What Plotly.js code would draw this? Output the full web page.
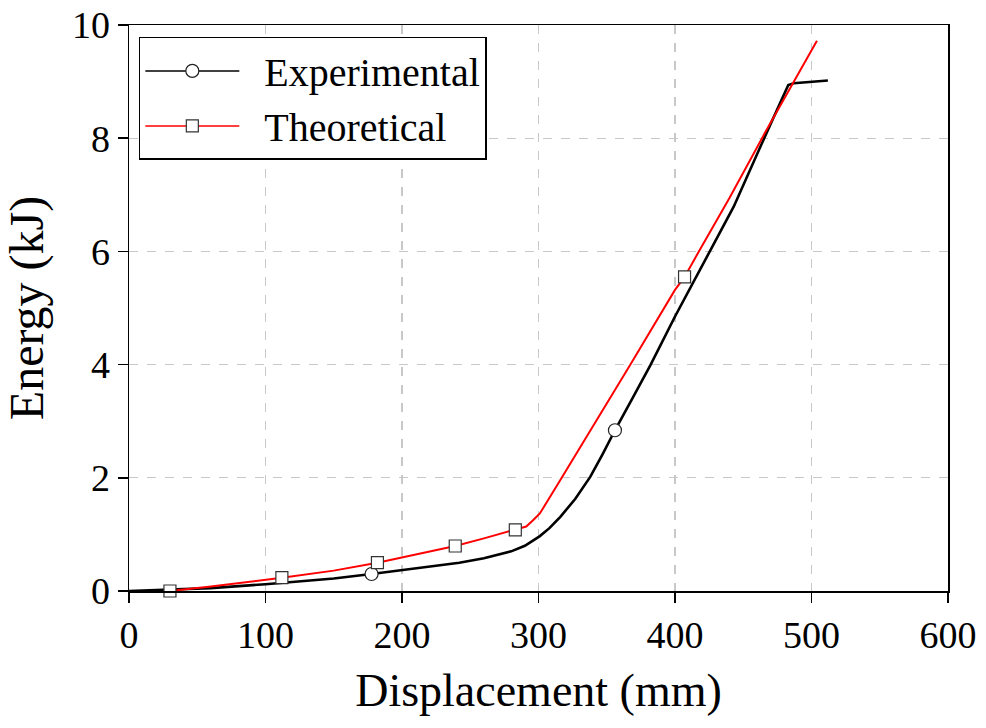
<!DOCTYPE html>
<html>
<head>
<meta charset="utf-8">
<script src="https://cdn.plot.ly/plotly-3.0.1.min.js"></script>
<style>html,body{margin:0;padding:0;background:#fff;}#chart{width:986px;height:728px;}</style>
</head>
<body>
<div id="chart"></div>
<script>
// Experimental curve (Displacement mm, Energy kJ)
var expX = [0, 30, 60, 100, 150, 177.7, 200, 242, 260, 280, 290, 301, 308, 316, 327, 338, 347, 356, 369, 382, 400, 426, 443, 467, 483, 487, 500, 512];
var expY = [0, 0.02, 0.05, 0.12, 0.22, 0.30, 0.37, 0.50, 0.58, 0.70, 0.80, 0.97, 1.11, 1.31, 1.63, 2.02, 2.42, 2.84, 3.41, 3.99, 4.85, 6.02, 6.79, 8.09, 8.94, 8.97, 9.00, 9.02];
// Theoretical curve
var thX = [30, 60, 112, 150, 182, 210, 239, 260, 283, 291, 296, 301, 316, 352, 367, 400, 407, 418, 440, 466, 504];
var thY = [0, 0.08, 0.235, 0.36, 0.50, 0.64, 0.795, 0.93, 1.08, 1.14, 1.25, 1.37, 1.96, 3.38, 3.99, 5.32, 5.55, 6.02, 6.95, 8.10, 9.72];
// Marker points
var expMarkX = [177.7, 356];
var expMarkY = [0.30, 2.84];
var thMarkX = [30, 112, 182, 239, 283, 407];
var thMarkY = [0, 0.235, 0.50, 0.795, 1.08, 5.55];
var seriesNames = ['Experimental', 'Theoretical'];
var xTicks = [0, 100, 200, 300, 400, 500, 600];
var yTicks = [0, 2, 4, 6, 8, 10];

var font = 'Liberation Serif';
var pad = '\u00a0\u00a0';
var circleMarker = {symbol: 'circle', size: 13, color: '#ffffff', line: {color: '#222', width: 1.2}};
var squareMarker = {symbol: 'square', size: 12, color: '#ffffff', line: {color: '#333', width: 1.2}};

var traces = [
  {x: expX, y: expY, mode: 'lines', line: {color: '#000', width: 2.6}, showlegend: false, hoverinfo: 'skip'},
  {x: thX, y: thY, mode: 'lines', line: {color: '#ff0000', width: 2}, showlegend: false, hoverinfo: 'skip'},
  {x: expMarkX, y: expMarkY, mode: 'markers', marker: circleMarker, showlegend: false, cliponaxis: false},
  {x: thMarkX, y: thMarkY, mode: 'markers', marker: squareMarker, showlegend: false, cliponaxis: false},
  {x: [null], y: [null], mode: 'lines+markers', name: pad + seriesNames[0], line: {color: '#000', width: 1.5}, marker: circleMarker},
  {x: [null], y: [null], mode: 'lines+markers', name: pad + seriesNames[1], line: {color: '#ff0000', width: 1.5}, marker: squareMarker}
];

var layout = {
  width: 986, height: 728,
  margin: {l: 129, r: 38, t: 25, b: 137},
  paper_bgcolor: '#fff', plot_bgcolor: '#fff',
  font: {family: font, color: '#000', size: 37},
  showlegend: true,
  legend: {
    x: 0.012, y: 0.979, xanchor: 'left', yanchor: 'top',
    bgcolor: '#fff', bordercolor: '#000', borderwidth: 1.5,
    font: {family: font, size: 40, color: '#000'},
    itemwidth: 94, tracegroupgap: 0, traceorder: 'normal'
  },
  xaxis: {
    range: [0, 600], tickvals: xTicks, ticktext: xTicks.map(String),
    showline: true, linecolor: '#000', linewidth: 1.5, mirror: true,
    ticks: 'outside', ticklen: 10, tickwidth: 1.5, tickcolor: '#000',
    showgrid: true, gridcolor: '#c8c8c8', gridwidth: 1.3, griddash: 'dash',
    zeroline: false,
    tickfont: {family: font, size: 38, color: '#000'},
    title: {text: 'Displacement (mm)', font: {family: font, size: 46, color: '#000'}, standoff: 18}
  },
  yaxis: {
    range: [0, 10], tickvals: yTicks, ticktext: yTicks.map(String),
    showline: true, linecolor: '#000', linewidth: 1.5, mirror: true,
    ticks: 'outside', ticklen: 10, tickwidth: 1.5, tickcolor: '#000',
    showgrid: true, gridcolor: '#c8c8c8', gridwidth: 1.3, griddash: 'dash',
    zeroline: false,
    tickfont: {family: font, size: 38, color: '#000'},
    title: {text: 'Energy (kJ)', font: {family: font, size: 48, color: '#000'}, standoff: 14}
  }
};

Plotly.newPlot('chart', traces, layout, {staticPlot: true, displayModeBar: false});
</script>
</body>
</html>
